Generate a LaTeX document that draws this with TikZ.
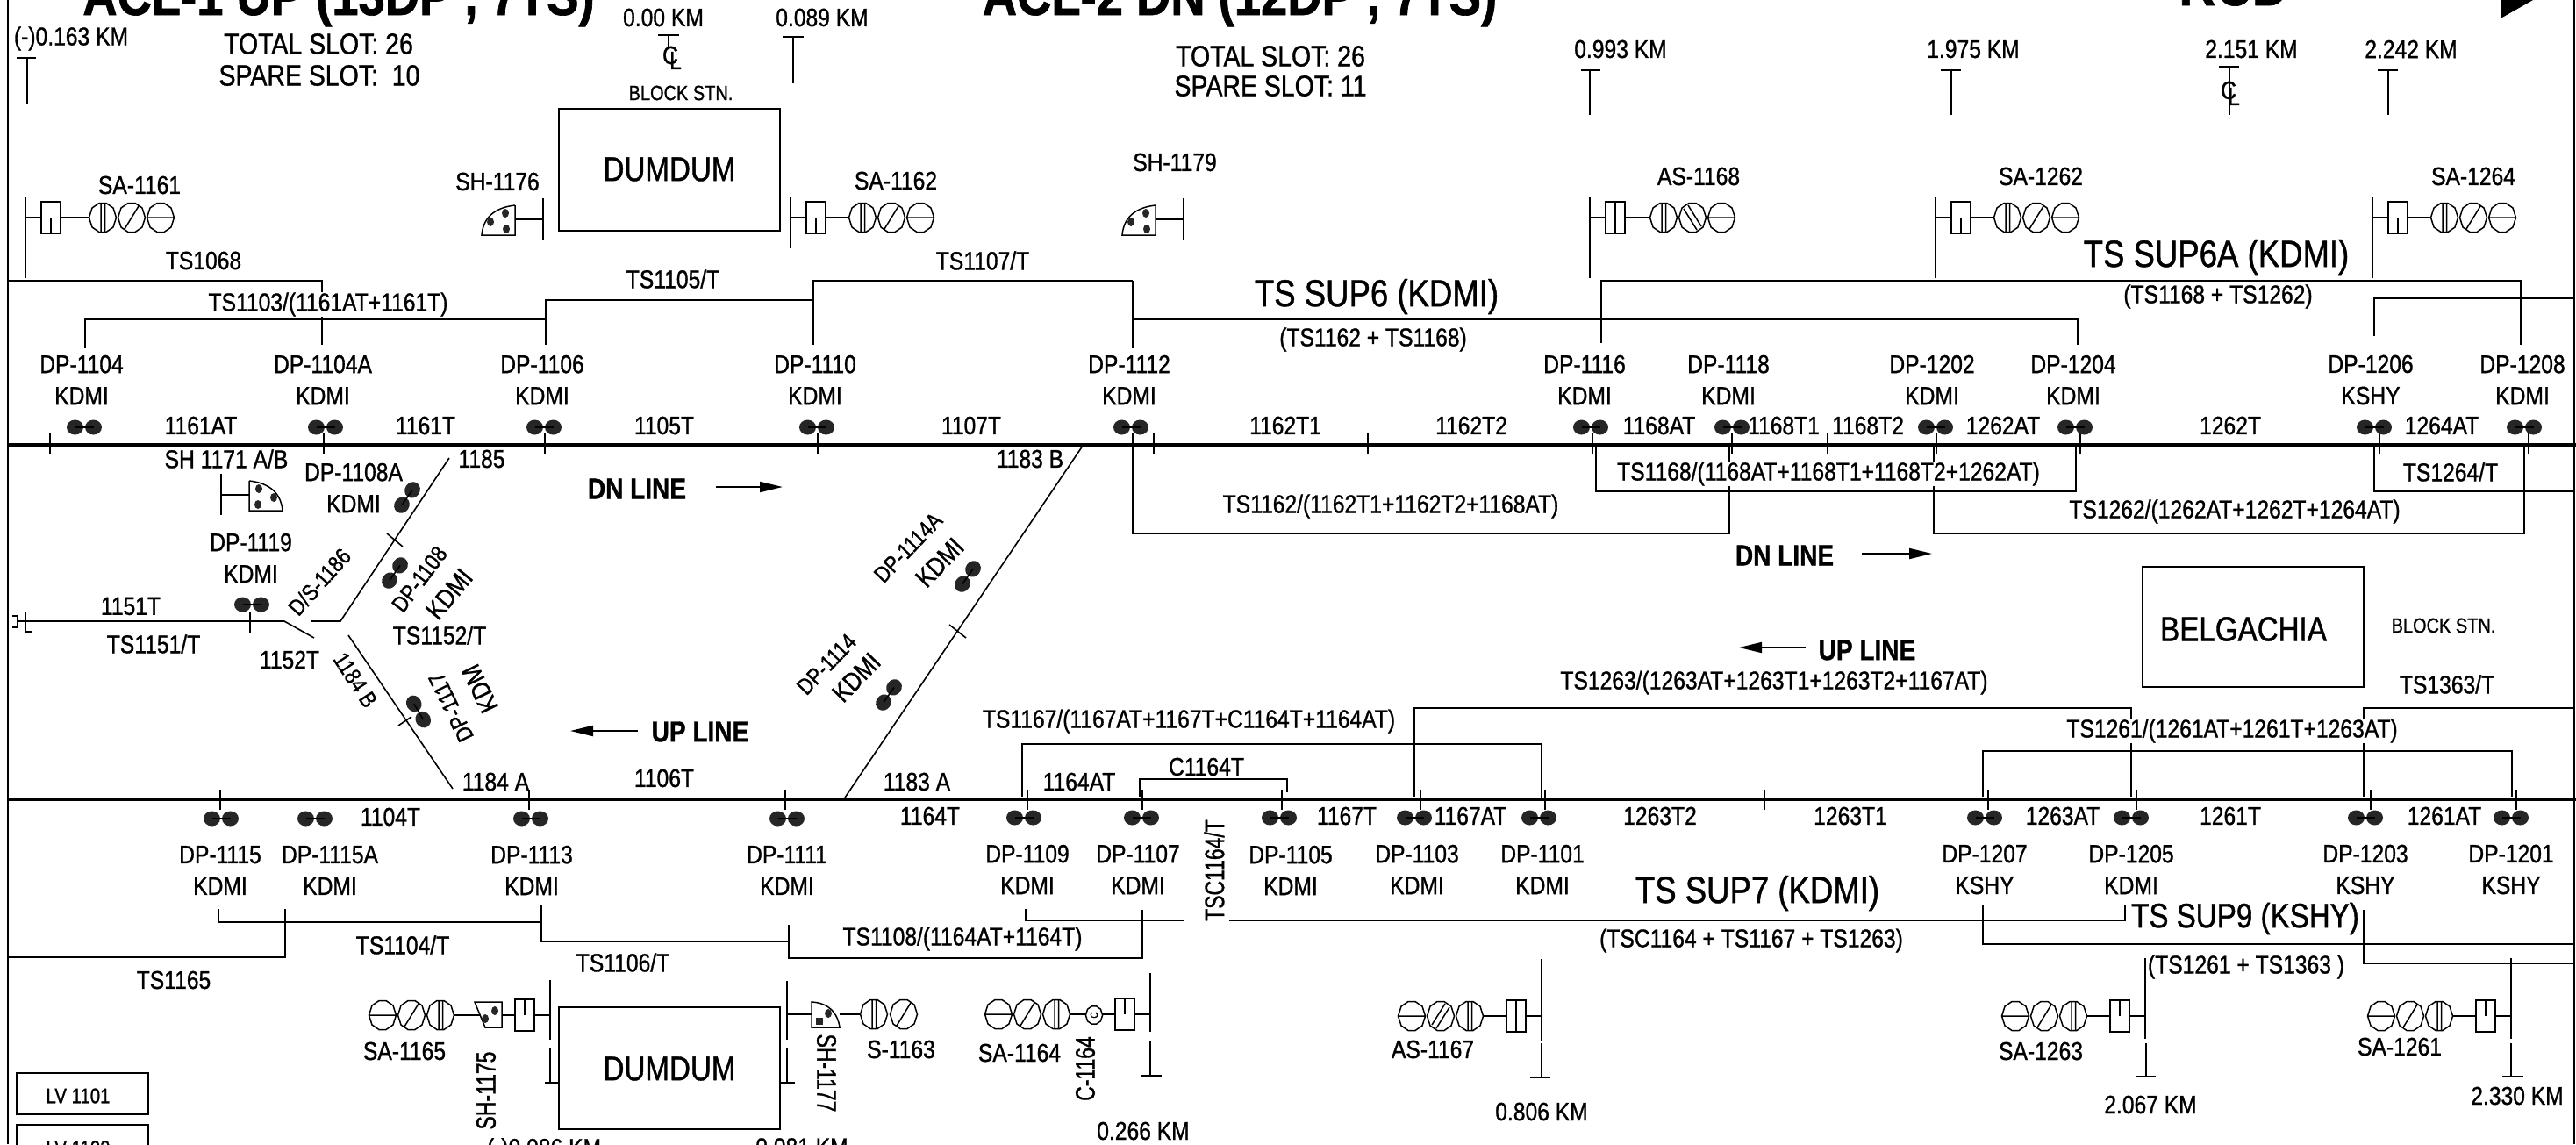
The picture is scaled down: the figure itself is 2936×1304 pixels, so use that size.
\documentclass[tikz,border=0pt]{standalone}
\usepackage{fontspec}
\setmainfont[FakeStretch=0.85,FakeBold=1.0]{Liberation Sans}
\newfontfamily\vfont[FakeStretch=0.74,FakeBold=1.0]{Liberation Sans}
\usetikzlibrary{arrows.meta}
\tikzset{
  lbl/.style={font=\fontsize{29}{36}\selectfont,inner sep=0pt},
  lblw/.style={lbl,fill=white},
  minor/.style={font=\fontsize{23.5}{28}\selectfont,inner sep=0pt},
  slot/.style={font=\fontsize{33.5}{36}\selectfont,inner sep=0pt},
  supv/.style={font=\fontsize{43}{44}\selectfont,inner sep=0pt},
  stn/.style={font=\fontsize{39}{40}\selectfont,inner sep=0pt},
  head1/.style={font=\fontsize{64}{64}\bfseries\selectfont,inner sep=0pt,anchor=base},
  dirn/.style={font=\fontsize{33}{33}\bfseries\selectfont,inner sep=0pt},
  vlbl/.style={font=\vfont\fontsize{31}{31}\selectfont,inner sep=0pt},
  rlbl/.style={font=\fontsize{26}{26}\selectfont,inner sep=0pt},
  rlblk/.style={font=\fontsize{30}{30}\selectfont,inner sep=0pt},
  rail/.style={line width=4pt},
  ts/.style={line width=1.9pt},
  post/.style={line width=1.6pt},
  sig/.style={line width=1.5pt},
  stnbox/.style={draw,line width=2pt},
  dirarrow/.style={line width=2pt,-{Triangle[length=26pt,width=12pt]}},
  octo/.style={insert path={(-15.5,0) -- (-12,-11) -- (-4,-16.5) -- (4,-16.5) -- (12,-11) -- (15.5,0) -- (12,11) -- (4,16.5) -- (-4,16.5) -- (-12,11) -- cycle}},
  headv/.pic={\draw[sig,fill=white,octo] (-2,-16) -- (-2,16) (2.5,-16.5) -- (2.5,16.5);},
  heads/.pic={\draw[sig,fill=white,octo] (-8,13) -- (8,-13);},
  headss/.pic={\draw[sig,fill=white,octo] (-10,10) -- (5,-14) (-5,14) -- (10,-10);},
  headbs/.pic={\draw[sig,fill=white,octo] (-10,-10) -- (5,14) (-5,-14) -- (10,10);},
  headh/.pic={\draw[sig,fill=white,octo] (-15.5,0) -- (15.5,0);},
  headc/.pic={
    \draw[sig,fill=white,scale=.62,octo];
    \node[rotate=90,font=\fontsize{12}{12}\selectfont,inner sep=0pt] (callc) {C};
  },
  pics/signal/.style n args={3}{code={
    \draw[sig] (0,0) -- (18,0) (40,0) -- (#1-15.5,0);
    \draw[sig] (18,-18) rectangle (40,18);
    \draw[sig] (29,#2) -- (29,18);
    \pic at (#1,0) {headv};
    \pic at (#1+33,0) {#3};
    \pic at (#1+66,0) {headh};
  }},
  dpair/.pic={
    \fill[black!85] (-10.5,0) ellipse [x radius=9.5,y radius=8.5];
    \fill[black!85] (10.5,0) ellipse [x radius=9.5,y radius=8.5];
    \draw[line width=1.6pt] (-10.5,0) -- (10.5,0);
  },
  shunt/.pic={
    \draw[post] (0,-24) -- (0,23);
    \draw[sig] (0,0) -- (-32,0);
    \draw[sig,fill=white] (-32,-16) -- (-32,18) -- (-70,18) .. controls (-68,-6) and (-50,-14) .. (-32,-16);
    \fill[black!85] (-43,-7) ellipse [x radius=4,y radius=5];
    \fill[black!85] (-60,3) ellipse [x radius=4,y radius=5];
    \fill[black!85] (-42,11) ellipse [x radius=4,y radius=5];
  },
}
\begin{document}
\begin{tikzpicture}[x=1pt,y=-1pt]
\useasboundingbox (0,0) rectangle (2936,1304);
\clip (0,0) rectangle (2936,1304);
\draw[line width=2pt] (9,0) -- (9,1304) (2934,0) -- (2934,1304);
\draw[rail] (8,507) -- (2936,507);
\draw[rail] (8,911) -- (2936,911);
\fill (2850,0) -- (2887,0) -- (2850,21) -- cycle;

\draw[post] (19,66) -- (41,66) (31,66) -- (31,118);
\draw[post] (750,40) -- (774,40) (762,40) -- (762,56);
\draw[post] (892,42) -- (916,42) (904,42) -- (904,95);
\draw[post] (1802,80) -- (1824,80) (1812,80) -- (1812,131);
\draw[post] (2212,80) -- (2235,80) (2224,80) -- (2224,131);
\draw[post] (2529,76) -- (2552,76) (2541,76) -- (2541,131);
\draw[post] (2710,80) -- (2733,80) (2722,80) -- (2722,131);

\draw[stnbox] (637,124) rectangle (889,263);
\draw[stnbox] (637,1148) rectangle (889,1287);
\draw[stnbox] (2442,646) rectangle (2694,783);
\draw[stnbox] (19,1223) rectangle (169,1270);
\draw[stnbox] (19,1282) rectangle (169,1330);

\draw[post] (29,224) -- (29,317);
\draw[post] (901,224) -- (901,283);
\draw[post] (1812,224) -- (1812,317);
\draw[post] (2206,224) -- (2206,317);
\draw[post] (2704,224) -- (2704,317);
\pic at (29,248) {signal={88}{0}{heads}};
\pic at (901,248) {signal={82}{0}{heads}};
\pic at (1812,248) {signal={84}{-18}{headbs}};
\pic at (2206,248) {signal={82}{0}{heads}};
\pic at (2704,248) {signal={82}{0}{heads}};
\pic at (619,250) {shunt};
\pic at (1349,250) {shunt};
\pic[xscale=-1] at (252,564) {shunt};

\draw[post] (627,1117) -- (627,1185) (627,1194) -- (627,1234) (621,1234) -- (637,1234);
\draw[post] (897,1118) -- (897,1185) (897,1194) -- (897,1234) (889,1234) -- (906,1234);
\draw[post] (1311,1109) -- (1311,1176) (1311,1186) -- (1311,1226) (1300,1226) -- (1324,1226);
\draw[post] (1757,1093) -- (1757,1186) (1757,1189) -- (1757,1228) (1744,1228) -- (1767,1228);
\draw[post] (2445,1092) -- (2445,1184) (2446,1189) -- (2446,1227) (2435,1227) -- (2457,1227);
\draw[post] (2862,1092) -- (2862,1184) (2862,1189) -- (2862,1227) (2852,1227) -- (2876,1227);
\pic[rotate=180] at (627,1157) {signal={125}{0}{heads}};
\draw[sig,fill=white] (541,1142) -- (572,1142) -- (572,1171) -- (553,1171) -- cycle;
\fill[black!85] (564,1152) ellipse [x radius=4,y radius=5];
\fill[black!85] (553,1161) ellipse [x radius=4,y radius=5];
\draw[sig] (897,1156) -- (925,1156) (957,1156) -- (981,1156);
\draw[sig,fill=white] (925,1142) .. controls (945,1143) and (955,1155) .. (957,1171) -- (925,1171) -- cycle;
\fill[black!85] (944,1155) ellipse [x radius=4,y radius=5];
\fill[black!85] (930,1160) rectangle (938,1168);
\pic at (996,1156) {headv};
\pic at (1030,1156) {heads};
\pic[rotate=180] at (1311,1156) {signal={107}{0}{heads}};
\pic at (1247,1157) {headc};
\pic[rotate=180] at (1757,1158) {signal={82}{-18}{headss}};
\pic[rotate=180] at (2445,1158) {signal={82}{0}{heads}};
\pic[rotate=180] at (2862,1158) {signal={82}{0}{heads}};

\draw[line width=1.6pt] (512,522) -- (388,708) -- (354,708);
\draw[line width=1.6pt] (29,708) -- (324,708) -- (358,727);
\draw[line width=1.6pt] (441,608) -- (459,623);
\draw[line width=1.6pt] (29,698) -- (29,720) -- (37,720) (14,702) -- (20,702) -- (20,715) -- (14,715) (20,708) -- (29,708);
\draw[post] (285,698) -- (285,721);
\draw[line width=1.6pt] (397,724) -- (516,899);
\draw[line width=1.6pt] (454,827) -- (469,817);
\draw[line width=1.6pt] (1234,508) -- (961,912);
\draw[line width=1.6pt] (1082,712) -- (1101,727);

\draw[post] (57,494) -- (57,517) (369,494) -- (369,517) (621,494) -- (621,517) (932,494) -- (932,517) (1315,494) -- (1315,517) (1559,494) -- (1559,517) (1815,494) -- (1815,517) (1974,494) -- (1974,517) (2083,494) -- (2083,517) (2207,494) -- (2207,517) (2371,494) -- (2371,517) (2712,494) -- (2712,517) (2882,494) -- (2882,517);
\draw[post] (251,900) -- (251,923) (603,900) -- (603,923) (895,900) -- (895,923) (1171,900) -- (1171,923) (1302,900) -- (1302,923) (1461,900) -- (1461,923) (1619,900) -- (1619,923) (1761,900) -- (1761,923) (2011,900) -- (2011,923) (2266,900) -- (2266,923) (2435,900) -- (2435,923) (2702,900) -- (2702,923) (2868,900) -- (2868,923);

\draw[ts] (9,320) -- (367,320) -- (367,393);
\draw[ts] (97,397) -- (97,364) -- (622,364);
\draw[ts] (622,393) -- (622,342) -- (927,342);
\draw[ts] (927,393) -- (927,320) -- (1291,320);
\draw[ts] (1291,397) -- (1291,320);
\draw[ts] (1291,364) -- (2368,364) -- (2368,393);
\draw[ts] (1825,391) -- (1825,320) -- (2873,320) -- (2873,393);
\draw[ts] (2706,383) -- (2706,340) -- (2934,340);
\draw[ts] (1291,493) -- (1291,608) -- (1971,608) -- (1971,507);
\draw[ts] (1819,507) -- (1819,560) -- (2366,560) -- (2366,507);
\draw[ts] (2204,507) -- (2204,608) -- (2877,608) -- (2877,507);
\draw[ts] (2706,507) -- (2706,560) -- (2934,560);
\draw[ts] (1165,908) -- (1165,848) -- (1757,848) -- (1757,913);
\draw[ts] (1299,908) -- (1299,888) -- (1467,888) -- (1467,903);
\draw[ts] (1612,908) -- (1612,807) -- (2429,807) -- (2429,908);
\draw[ts] (2694,908) -- (2694,807) -- (2934,807);
\draw[ts] (2260,908) -- (2260,856) -- (2863,856) -- (2863,908);
\draw[ts] (249,1036) -- (249,1051) -- (617,1051);
\draw[ts] (617,1032) -- (617,1073) -- (899,1073);
\draw[ts] (899,1054) -- (899,1092) -- (1302,1092) -- (1302,1037);
\draw[ts] (9,1091) -- (325,1091) -- (325,1036);
\draw[ts] (1169,1036) -- (1169,1049) -- (1349,1049);
\draw[ts] (1401,1049) -- (2422,1049) -- (2422,1032);
\draw[ts] (2260,1032) -- (2260,1076) -- (2934,1076);
\draw[ts] (2694,1037) -- (2694,1098) -- (2934,1098);

\pic at (96,487) {dpair};
\pic at (371,487) {dpair};
\pic at (620,487) {dpair};
\pic at (931,487) {dpair};
\pic at (1289,487) {dpair};
\pic at (1813,487) {dpair};
\pic at (1974,487) {dpair};
\pic at (2206,487) {dpair};
\pic at (2365,487) {dpair};
\pic at (2706,487) {dpair};
\pic at (2877,487) {dpair};
\pic at (252,933) {dpair};
\pic at (359,933) {dpair};
\pic at (605,933) {dpair};
\pic at (897,933) {dpair};
\pic at (1167,932) {dpair};
\pic at (1301,932) {dpair};
\pic at (1458,932) {dpair};
\pic at (1612,932) {dpair};
\pic at (1754,932) {dpair};
\pic at (2262,932) {dpair};
\pic at (2429,932) {dpair};
\pic at (2696,932) {dpair};
\pic at (2862,932) {dpair};
\pic at (287,689) {dpair};
\pic[rotate=55] at (464,567) {dpair};
\pic[rotate=55] at (450,653) {dpair};
\pic[rotate=-60] at (477,811) {dpair};
\pic[rotate=55] at (1103,657) {dpair};
\pic[rotate=55] at (1013,792) {dpair};

\node[head1] (title1) at (386,17) {ACL-1 UP (13DP , 7TS)};
\node[head1] (title2) at (1413,17) {ACL-2 DN (12DP , 7TS)};
\node[head1,font=\fontsize{68}{68}\bfseries\selectfont] (title3) at (2546,6) {RCD};
\node[slot] (tot1) at (363,50) {TOTAL SLOT: 26};
\node[slot] (spare1) at (364,86) {SPARE SLOT:\ \ 10};
\node[slot] (tot2) at (1448,64) {TOTAL SLOT: 26};
\node[slot] (spare2) at (1448,98) {SPARE SLOT: 11};

\node[lbl] (kmm163) at (81,44) {(-)0.163 KM};
\node[lbl] (km0) at (756,20) {0.00 KM};
\node[lbl] (km089) at (937,20) {0.089 KM};
\node[lbl] (km993) at (1847,56) {0.993 KM};
\node[lbl] (km1975) at (2249,56) {1.975 KM};
\node[lbl] (km2151) at (2566,56) {2.151 KM};
\node[lbl] (km2242) at (2748,56) {2.242 KM};
\node[lbl,anchor=north] (kmm086) at (620,1297) {(-)0.086 KM};
\node[lbl,anchor=north] (km081) at (914,1297) {0.081 KM};
\node[lbl] (km266) at (1303,1289) {0.266 KM};
\node[lbl] (km806) at (1757,1267) {0.806 KM};
\node[lbl] (km2067) at (2451,1259) {2.067 KM};
\node[lbl] (km2330) at (2869,1249) {2.330 KM};
\node[lbl] (cl1a) at (764,63) {C};
\node[lbl] (cl1b) at (770,69) {L};
\node[lbl] (cl2a) at (2540,103) {C};
\node[lbl] (cl2b) at (2546,110) {L};

\node[minor] (blk1) at (776,106) {BLOCK STN.};
\node[minor] (blk2) at (2785,713) {BLOCK STN.};
\node[stn] (dumdum1) at (763,193) {DUMDUM};
\node[stn] (dumdum2) at (763,1218) {DUMDUM};
\node[stn] (belgachia) at (2557,717) {BELGACHIA};
\node[font=\fontsize{24}{24}\selectfont,inner sep=0pt] (lv1101) at (89,1249) {LV 1101};
\node[font=\fontsize{24}{24}\selectfont,inner sep=0pt,anchor=north] (lv1102) at (89,1300) {LV 1102};

\node[lbl] (sa1161) at (159,211) {SA-1161};
\node[lbl] (sh1176) at (567,207) {SH-1176};
\node[lbl] (sa1162) at (1021,206) {SA-1162};
\node[lbl] (sh1179) at (1339,185) {SH-1179};
\node[lbl] (as1168) at (1936,201) {AS-1168};
\node[lbl] (sa1262) at (2326,201) {SA-1262};
\node[lbl] (sa1264) at (2819,201) {SA-1264};
\node[lbl] (sa1165) at (461,1198) {SA-1165};
\node[lbl] (s1163) at (1027,1196) {S-1163};
\node[lbl] (sa1164) at (1162,1200) {SA-1164};
\node[lbl] (as1167) at (1633,1196) {AS-1167};
\node[lbl] (sa1263) at (2326,1198) {SA-1263};
\node[lbl] (sa1261) at (2735,1193) {SA-1261};
\node[lbl] (sh1171) at (258,523) {SH 1171 A/B};
\node[vlbl,rotate=90] (sh1175) at (554,1243) {SH-1175};
\node[vlbl,rotate=-90] (sh1177) at (942,1223) {SH-1177};
\node[vlbl,rotate=90] (c1164) at (1237,1218) {C-1164};
\node[vlbl,rotate=90] (tsc1164) at (1384,992) {TSC1164/T};

\node[lbl,align=center] (dp1104) at (93,433) {DP-1104\\KDMI};
\node[lbl,align=center] (dp1104a) at (368,433) {DP-1104A\\KDMI};
\node[lbl,align=center] (dp1106) at (618,433) {DP-1106\\KDMI};
\node[lbl,align=center] (dp1110) at (929,433) {DP-1110\\KDMI};
\node[lbl,align=center] (dp1112) at (1287,433) {DP-1112\\KDMI};
\node[lbl,align=center] (dp1116) at (1806,433) {DP-1116\\KDMI};
\node[lbl,align=center] (dp1118) at (1970,433) {DP-1118\\KDMI};
\node[lbl,align=center] (dp1202) at (2202,433) {DP-1202\\KDMI};
\node[lbl,align=center] (dp1204) at (2363,433) {DP-1204\\KDMI};
\node[lbl,align=center] (dp1206) at (2702,433) {DP-1206\\KSHY};
\node[lbl,align=center] (dp1208) at (2875,433) {DP-1208\\KDMI};
\node[lbl,align=center] (dp1115) at (251,992) {DP-1115\\KDMI};
\node[lbl,align=center] (dp1115a) at (376,992) {DP-1115A\\KDMI};
\node[lbl,align=center] (dp1113) at (606,992) {DP-1113\\KDMI};
\node[lbl,align=center] (dp1111) at (897,992) {DP-1111\\KDMI};
\node[lbl,align=center] (dp1109) at (1171,991) {DP-1109\\KDMI};
\node[lbl,align=center] (dp1107) at (1297,991) {DP-1107\\KDMI};
\node[lbl,align=center] (dp1105) at (1471,992) {DP-1105\\KDMI};
\node[lbl,align=center] (dp1103) at (1615,991) {DP-1103\\KDMI};
\node[lbl,align=center] (dp1101) at (1758,991) {DP-1101\\KDMI};
\node[lbl,align=center] (dp1207) at (2262,991) {DP-1207\\KSHY};
\node[lbl,align=center] (dp1205) at (2429,991) {DP-1205\\KDMI};
\node[lbl,align=center] (dp1203) at (2696,991) {DP-1203\\KSHY};
\node[lbl,align=center] (dp1201) at (2862,991) {DP-1201\\KSHY};
\node[lbl,align=center] (dp1119) at (286,636) {DP-1119\\KDMI};
\node[lbl,align=center] (dp1108a) at (403,556) {DP-1108A\\KDMI};

\node[rlbl,rotate=53] (dp1108) at (478,660) {DP-1108};
\node[rlblk,rotate=50] (dp1108k) at (512,677) {KDMI};
\node[rlbl,rotate=48] (ds1186) at (364,663) {D/S-1186};
\node[rlbl,rotate=-57] (t1184b) at (405,775) {1184 B};
\node[rlbl,rotate=116] (dp1117) at (514,806) {DP-1117};
\node[rlblk,rotate=116] (dp1117k) at (547,785) {KDM};
\node[rlbl,rotate=46] (dp1114a) at (1035,624) {DP-1114A};
\node[rlblk,rotate=46] (dp1114ak) at (1071,641) {KDMI};
\node[rlbl,rotate=46] (dp1114) at (942,757) {DP-1114};
\node[rlblk,rotate=46] (dp1114k) at (976,772) {KDMI};

\node[lbl] (t1161at) at (229,485) {1161AT};
\node[lbl] (t1161t) at (485,485) {1161T};
\node[lbl] (t1105t) at (757,485) {1105T};
\node[lbl] (t1107t) at (1107,485) {1107T};
\node[lbl] (t1162t1) at (1465,485) {1162T1};
\node[lbl] (t1162t2) at (1677,485) {1162T2};
\node[lbl] (t1168at) at (1891,485) {1168AT};
\node[lbl] (t1168t1) at (2033,485) {1168T1};
\node[lbl] (t1168t2) at (2129,485) {1168T2};
\node[lbl] (t1262at) at (2283,485) {1262AT};
\node[lbl] (t1262t) at (2542,485) {1262T};
\node[lbl] (t1264at) at (2783,485) {1264AT};
\node[lbl] (t1185) at (549,523) {1185};
\node[lbl] (t1183b) at (1174,523) {1183 B};
\node[lbl] (t1151t) at (149,691) {1151T};
\node[lbl] (t1152t) at (330,752) {1152T};
\node[lbl] (t1184a) at (565,891) {1184 A};
\node[lbl] (t1106t) at (757,887) {1106T};
\node[lbl] (t1183a) at (1045,891) {1183 A};
\node[lbl] (t1164at) at (1230,891) {1164AT};
\node[lbl] (t1104t) at (445,931) {1104T};
\node[lbl] (t1164t) at (1060,930) {1164T};
\node[lbl] (t1167t) at (1535,930) {1167T};
\node[lbl] (t1167at) at (1676,930) {1167AT};
\node[lbl] (t1263t2) at (1892,930) {1263T2};
\node[lbl] (t1263t1) at (2109,930) {1263T1};
\node[lbl] (t1263at) at (2351,930) {1263AT};
\node[lbl] (t1261t) at (2542,930) {1261T};
\node[lbl] (t1261at) at (2786,930) {1261AT};

\node[lbl] (ts1068) at (232,297) {TS1068};
\node[lblw] (ts1103) at (374,347) {TS1103/(1161AT+1161T)};
\node[lbl] (ts1105) at (767,318) {TS1105/T};
\node[lbl] (ts1107) at (1120,297) {TS1107/T};
\node[supv] (sup6) at (1569,338) {TS SUP6 (KDMI)};
\node[lbl] (sup6t) at (1565,387) {(TS1162 + TS1168)};
\node[supv] (sup6a) at (2526,293) {TS SUP6A (KDMI)};
\node[lbl] (sup6at) at (2528,338) {(TS1168 + TS1262)};
\node[lblw] (ts1168) at (2084,540) {TS1168/(1168AT+1168T1+1168T2+1262AT)};
\node[lbl] (ts1162) at (1585,577) {TS1162/(1162T1+1162T2+1168AT)};
\node[lbl] (ts1262) at (2547,583) {TS1262/(1262AT+1262T+1264AT)};
\node[lbl] (ts1264) at (2793,538) {TS1264/T};
\node[lbl] (ts1151) at (175,734) {TS1151/T};
\node[lbl] (ts1152) at (501,724) {TS1152/T};
\node[lbl] (ts1263) at (2022,778) {TS1263/(1263AT+1263T1+1263T2+1167AT)};
\node[lbl] (ts1363) at (2789,780) {TS1363/T};
\node[lblw] (ts1261) at (2544,833) {TS1261/(1261AT+1261T+1263AT)};
\node[lbl] (ts1167) at (1355,822) {TS1167/(1167AT+1167T+C1164T+1164AT)};
\node[lbl] (c1164t) at (1375,874) {C1164T};
\node[lbl] (ts1104) at (459,1077) {TS1104/T};
\node[lbl] (ts1106) at (710,1097) {TS1106/T};
\node[lbl] (ts1108) at (1097,1070) {TS1108/(1164AT+1164T)};
\node[lbl] (ts1165) at (198,1117) {TS1165};
\node[supv] (sup7) at (2003,1018) {TS SUP7 (KDMI)};
\node[lbl] (sup7t) at (1996,1072) {(TSC1164 + TS1167 + TS1263)};
\node[stn] (sup9) at (2559,1047) {TS SUP9 (KSHY)};
\node[lbl] (sup9t) at (2560,1102) {(TS1261 + TS1363 )};

\node[dirn] (dn1) at (726,557) {DN LINE};
\coordinate (dn1a) at (816,555);
\coordinate (dn1b) at (892,555);
\draw[dirarrow] (dn1a) -- (dn1b);
\node[dirn] (up1) at (798,834) {UP LINE};
\coordinate (up1a) at (727,833);
\coordinate (up1b) at (650,833);
\draw[dirarrow] (up1a) -- (up1b);
\node[dirn] (dn2) at (2034,633) {DN LINE};
\coordinate (dn2a) at (2122,631);
\coordinate (dn2b) at (2202,631);
\draw[dirarrow] (dn2a) -- (dn2b);
\node[dirn] (up2) at (2128,741) {UP LINE};
\coordinate (up2a) at (2058,738);
\coordinate (up2b) at (1982,738);
\draw[dirarrow] (up2a) -- (up2b);
\end{tikzpicture}
\end{document}
